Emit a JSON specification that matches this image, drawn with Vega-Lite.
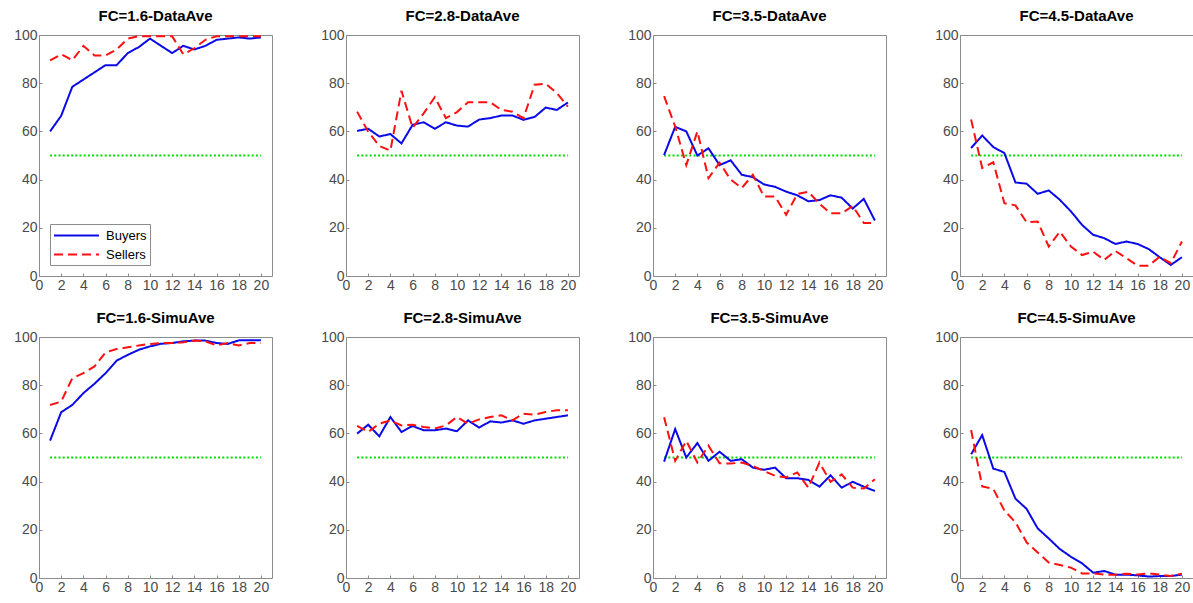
{
"$schema": "https://vega.github.io/schema/vega-lite/v6.json",
"padding": {"left": 13, "top": 8, "right": 0, "bottom": 0},
"background": "white",
"data": {"values": [
{"p":"FC=1.6-DataAve","s":"Buyers","x":1,"v":60},{"p":"FC=1.6-DataAve","s":"Buyers","x":2,"v":66.5},{"p":"FC=1.6-DataAve","s":"Buyers","x":3,"v":78.5},{"p":"FC=1.6-DataAve","s":"Buyers","x":4,"v":81.5},{"p":"FC=1.6-DataAve","s":"Buyers","x":5,"v":84.5},{"p":"FC=1.6-DataAve","s":"Buyers","x":6,"v":87.5},{"p":"FC=1.6-DataAve","s":"Buyers","x":7,"v":87.5},{"p":"FC=1.6-DataAve","s":"Buyers","x":8,"v":92.5},{"p":"FC=1.6-DataAve","s":"Buyers","x":9,"v":95},{"p":"FC=1.6-DataAve","s":"Buyers","x":10,"v":98.5},{"p":"FC=1.6-DataAve","s":"Buyers","x":11,"v":95.5},{"p":"FC=1.6-DataAve","s":"Buyers","x":12,"v":92.5},{"p":"FC=1.6-DataAve","s":"Buyers","x":13,"v":95.5},{"p":"FC=1.6-DataAve","s":"Buyers","x":14,"v":94},{"p":"FC=1.6-DataAve","s":"Buyers","x":15,"v":95.5},{"p":"FC=1.6-DataAve","s":"Buyers","x":16,"v":98},{"p":"FC=1.6-DataAve","s":"Buyers","x":17,"v":98.5},{"p":"FC=1.6-DataAve","s":"Buyers","x":18,"v":99},{"p":"FC=1.6-DataAve","s":"Buyers","x":19,"v":98.5},{"p":"FC=1.6-DataAve","s":"Buyers","x":20,"v":99},
{"p":"FC=1.6-DataAve","s":"Sellers","x":1,"v":89.5},{"p":"FC=1.6-DataAve","s":"Sellers","x":2,"v":92},{"p":"FC=1.6-DataAve","s":"Sellers","x":3,"v":89.5},{"p":"FC=1.6-DataAve","s":"Sellers","x":4,"v":95.5},{"p":"FC=1.6-DataAve","s":"Sellers","x":5,"v":91.5},{"p":"FC=1.6-DataAve","s":"Sellers","x":6,"v":91.5},{"p":"FC=1.6-DataAve","s":"Sellers","x":7,"v":94},{"p":"FC=1.6-DataAve","s":"Sellers","x":8,"v":98.5},{"p":"FC=1.6-DataAve","s":"Sellers","x":9,"v":99.5},{"p":"FC=1.6-DataAve","s":"Sellers","x":10,"v":99.5},{"p":"FC=1.6-DataAve","s":"Sellers","x":11,"v":99.5},{"p":"FC=1.6-DataAve","s":"Sellers","x":12,"v":99.5},{"p":"FC=1.6-DataAve","s":"Sellers","x":13,"v":92},{"p":"FC=1.6-DataAve","s":"Sellers","x":14,"v":94.5},{"p":"FC=1.6-DataAve","s":"Sellers","x":15,"v":98},{"p":"FC=1.6-DataAve","s":"Sellers","x":16,"v":99.5},{"p":"FC=1.6-DataAve","s":"Sellers","x":17,"v":99.5},{"p":"FC=1.6-DataAve","s":"Sellers","x":18,"v":99.5},{"p":"FC=1.6-DataAve","s":"Sellers","x":19,"v":99.5},{"p":"FC=1.6-DataAve","s":"Sellers","x":20,"v":99.5},
{"p":"FC=2.8-DataAve","s":"Buyers","x":1,"v":60.2},{"p":"FC=2.8-DataAve","s":"Buyers","x":2,"v":61.1},{"p":"FC=2.8-DataAve","s":"Buyers","x":3,"v":57.9},{"p":"FC=2.8-DataAve","s":"Buyers","x":4,"v":58.9},{"p":"FC=2.8-DataAve","s":"Buyers","x":5,"v":55},{"p":"FC=2.8-DataAve","s":"Buyers","x":6,"v":62.7},{"p":"FC=2.8-DataAve","s":"Buyers","x":7,"v":63.8},{"p":"FC=2.8-DataAve","s":"Buyers","x":8,"v":61.1},{"p":"FC=2.8-DataAve","s":"Buyers","x":9,"v":63.8},{"p":"FC=2.8-DataAve","s":"Buyers","x":10,"v":62.4},{"p":"FC=2.8-DataAve","s":"Buyers","x":11,"v":62},{"p":"FC=2.8-DataAve","s":"Buyers","x":12,"v":64.9},{"p":"FC=2.8-DataAve","s":"Buyers","x":13,"v":65.5},{"p":"FC=2.8-DataAve","s":"Buyers","x":14,"v":66.6},{"p":"FC=2.8-DataAve","s":"Buyers","x":15,"v":66.6},{"p":"FC=2.8-DataAve","s":"Buyers","x":16,"v":64.8},{"p":"FC=2.8-DataAve","s":"Buyers","x":17,"v":66},{"p":"FC=2.8-DataAve","s":"Buyers","x":18,"v":69.9},{"p":"FC=2.8-DataAve","s":"Buyers","x":19,"v":68.9},{"p":"FC=2.8-DataAve","s":"Buyers","x":20,"v":72},
{"p":"FC=2.8-DataAve","s":"Sellers","x":1,"v":68.2},{"p":"FC=2.8-DataAve","s":"Sellers","x":2,"v":59.9},{"p":"FC=2.8-DataAve","s":"Sellers","x":3,"v":54},{"p":"FC=2.8-DataAve","s":"Sellers","x":4,"v":52},{"p":"FC=2.8-DataAve","s":"Sellers","x":5,"v":76.9},{"p":"FC=2.8-DataAve","s":"Sellers","x":6,"v":61.5},{"p":"FC=2.8-DataAve","s":"Sellers","x":7,"v":67.5},{"p":"FC=2.8-DataAve","s":"Sellers","x":8,"v":74.2},{"p":"FC=2.8-DataAve","s":"Sellers","x":9,"v":65.5},{"p":"FC=2.8-DataAve","s":"Sellers","x":10,"v":68},{"p":"FC=2.8-DataAve","s":"Sellers","x":11,"v":72.1},{"p":"FC=2.8-DataAve","s":"Sellers","x":12,"v":72.1},{"p":"FC=2.8-DataAve","s":"Sellers","x":13,"v":72.1},{"p":"FC=2.8-DataAve","s":"Sellers","x":14,"v":68.9},{"p":"FC=2.8-DataAve","s":"Sellers","x":15,"v":68.2},{"p":"FC=2.8-DataAve","s":"Sellers","x":16,"v":65.5},{"p":"FC=2.8-DataAve","s":"Sellers","x":17,"v":79.4},{"p":"FC=2.8-DataAve","s":"Sellers","x":18,"v":79.8},{"p":"FC=2.8-DataAve","s":"Sellers","x":19,"v":75.9},{"p":"FC=2.8-DataAve","s":"Sellers","x":20,"v":70.3},
{"p":"FC=3.5-DataAve","s":"Buyers","x":1,"v":50.2},{"p":"FC=3.5-DataAve","s":"Buyers","x":2,"v":61.9},{"p":"FC=3.5-DataAve","s":"Buyers","x":3,"v":60},{"p":"FC=3.5-DataAve","s":"Buyers","x":4,"v":50},{"p":"FC=3.5-DataAve","s":"Buyers","x":5,"v":53},{"p":"FC=3.5-DataAve","s":"Buyers","x":6,"v":46},{"p":"FC=3.5-DataAve","s":"Buyers","x":7,"v":48},{"p":"FC=3.5-DataAve","s":"Buyers","x":8,"v":42},{"p":"FC=3.5-DataAve","s":"Buyers","x":9,"v":41},{"p":"FC=3.5-DataAve","s":"Buyers","x":10,"v":38},{"p":"FC=3.5-DataAve","s":"Buyers","x":11,"v":37},{"p":"FC=3.5-DataAve","s":"Buyers","x":12,"v":35},{"p":"FC=3.5-DataAve","s":"Buyers","x":13,"v":33.5},{"p":"FC=3.5-DataAve","s":"Buyers","x":14,"v":31},{"p":"FC=3.5-DataAve","s":"Buyers","x":15,"v":31.5},{"p":"FC=3.5-DataAve","s":"Buyers","x":16,"v":33.5},{"p":"FC=3.5-DataAve","s":"Buyers","x":17,"v":32.5},{"p":"FC=3.5-DataAve","s":"Buyers","x":18,"v":28},{"p":"FC=3.5-DataAve","s":"Buyers","x":19,"v":32},{"p":"FC=3.5-DataAve","s":"Buyers","x":20,"v":23},
{"p":"FC=3.5-DataAve","s":"Sellers","x":1,"v":74.6},{"p":"FC=3.5-DataAve","s":"Sellers","x":2,"v":62},{"p":"FC=3.5-DataAve","s":"Sellers","x":3,"v":46},{"p":"FC=3.5-DataAve","s":"Sellers","x":4,"v":60},{"p":"FC=3.5-DataAve","s":"Sellers","x":5,"v":40.6},{"p":"FC=3.5-DataAve","s":"Sellers","x":6,"v":47},{"p":"FC=3.5-DataAve","s":"Sellers","x":7,"v":40},{"p":"FC=3.5-DataAve","s":"Sellers","x":8,"v":36.5},{"p":"FC=3.5-DataAve","s":"Sellers","x":9,"v":42},{"p":"FC=3.5-DataAve","s":"Sellers","x":10,"v":33},{"p":"FC=3.5-DataAve","s":"Sellers","x":11,"v":33},{"p":"FC=3.5-DataAve","s":"Sellers","x":12,"v":25.4},{"p":"FC=3.5-DataAve","s":"Sellers","x":13,"v":34},{"p":"FC=3.5-DataAve","s":"Sellers","x":14,"v":35},{"p":"FC=3.5-DataAve","s":"Sellers","x":15,"v":30},{"p":"FC=3.5-DataAve","s":"Sellers","x":16,"v":26},{"p":"FC=3.5-DataAve","s":"Sellers","x":17,"v":26},{"p":"FC=3.5-DataAve","s":"Sellers","x":18,"v":29},{"p":"FC=3.5-DataAve","s":"Sellers","x":19,"v":22},{"p":"FC=3.5-DataAve","s":"Sellers","x":20,"v":22},
{"p":"FC=4.5-DataAve","s":"Buyers","x":1,"v":53.1},{"p":"FC=4.5-DataAve","s":"Buyers","x":2,"v":58.3},{"p":"FC=4.5-DataAve","s":"Buyers","x":3,"v":53.5},{"p":"FC=4.5-DataAve","s":"Buyers","x":4,"v":51},{"p":"FC=4.5-DataAve","s":"Buyers","x":5,"v":38.8},{"p":"FC=4.5-DataAve","s":"Buyers","x":6,"v":38.3},{"p":"FC=4.5-DataAve","s":"Buyers","x":7,"v":34.1},{"p":"FC=4.5-DataAve","s":"Buyers","x":8,"v":35.5},{"p":"FC=4.5-DataAve","s":"Buyers","x":9,"v":31.6},{"p":"FC=4.5-DataAve","s":"Buyers","x":10,"v":26.8},{"p":"FC=4.5-DataAve","s":"Buyers","x":11,"v":21.2},{"p":"FC=4.5-DataAve","s":"Buyers","x":12,"v":17.1},{"p":"FC=4.5-DataAve","s":"Buyers","x":13,"v":15.7},{"p":"FC=4.5-DataAve","s":"Buyers","x":14,"v":13.3},{"p":"FC=4.5-DataAve","s":"Buyers","x":15,"v":14.3},{"p":"FC=4.5-DataAve","s":"Buyers","x":16,"v":13.3},{"p":"FC=4.5-DataAve","s":"Buyers","x":17,"v":11.2},{"p":"FC=4.5-DataAve","s":"Buyers","x":18,"v":7.8},{"p":"FC=4.5-DataAve","s":"Buyers","x":19,"v":4.6},{"p":"FC=4.5-DataAve","s":"Buyers","x":20,"v":7.8},
{"p":"FC=4.5-DataAve","s":"Sellers","x":1,"v":64.9},{"p":"FC=4.5-DataAve","s":"Sellers","x":2,"v":44.8},{"p":"FC=4.5-DataAve","s":"Sellers","x":3,"v":47.2},{"p":"FC=4.5-DataAve","s":"Sellers","x":4,"v":30.2},{"p":"FC=4.5-DataAve","s":"Sellers","x":5,"v":29.3},{"p":"FC=4.5-DataAve","s":"Sellers","x":6,"v":22.3},{"p":"FC=4.5-DataAve","s":"Sellers","x":7,"v":22.6},{"p":"FC=4.5-DataAve","s":"Sellers","x":8,"v":12.2},{"p":"FC=4.5-DataAve","s":"Sellers","x":9,"v":18.4},{"p":"FC=4.5-DataAve","s":"Sellers","x":10,"v":12.2},{"p":"FC=4.5-DataAve","s":"Sellers","x":11,"v":8.7},{"p":"FC=4.5-DataAve","s":"Sellers","x":12,"v":10.1},{"p":"FC=4.5-DataAve","s":"Sellers","x":13,"v":6.7},{"p":"FC=4.5-DataAve","s":"Sellers","x":14,"v":10.4},{"p":"FC=4.5-DataAve","s":"Sellers","x":15,"v":7.4},{"p":"FC=4.5-DataAve","s":"Sellers","x":16,"v":4.3},{"p":"FC=4.5-DataAve","s":"Sellers","x":17,"v":4.3},{"p":"FC=4.5-DataAve","s":"Sellers","x":18,"v":8},{"p":"FC=4.5-DataAve","s":"Sellers","x":19,"v":5.3},{"p":"FC=4.5-DataAve","s":"Sellers","x":20,"v":14.3},
{"p":"FC=1.6-SimuAve","s":"Buyers","x":1,"v":57},{"p":"FC=1.6-SimuAve","s":"Buyers","x":2,"v":68.8},{"p":"FC=1.6-SimuAve","s":"Buyers","x":3,"v":71.8},{"p":"FC=1.6-SimuAve","s":"Buyers","x":4,"v":76.7},{"p":"FC=1.6-SimuAve","s":"Buyers","x":5,"v":80.6},{"p":"FC=1.6-SimuAve","s":"Buyers","x":6,"v":85},{"p":"FC=1.6-SimuAve","s":"Buyers","x":7,"v":90.2},{"p":"FC=1.6-SimuAve","s":"Buyers","x":8,"v":92.6},{"p":"FC=1.6-SimuAve","s":"Buyers","x":9,"v":94.7},{"p":"FC=1.6-SimuAve","s":"Buyers","x":10,"v":96.1},{"p":"FC=1.6-SimuAve","s":"Buyers","x":11,"v":97.2},{"p":"FC=1.6-SimuAve","s":"Buyers","x":12,"v":97.5},{"p":"FC=1.6-SimuAve","s":"Buyers","x":13,"v":98.2},{"p":"FC=1.6-SimuAve","s":"Buyers","x":14,"v":98.5},{"p":"FC=1.6-SimuAve","s":"Buyers","x":15,"v":98.5},{"p":"FC=1.6-SimuAve","s":"Buyers","x":16,"v":97.5},{"p":"FC=1.6-SimuAve","s":"Buyers","x":17,"v":97.1},{"p":"FC=1.6-SimuAve","s":"Buyers","x":18,"v":98.6},{"p":"FC=1.6-SimuAve","s":"Buyers","x":19,"v":98.6},{"p":"FC=1.6-SimuAve","s":"Buyers","x":20,"v":98.6},
{"p":"FC=1.6-SimuAve","s":"Sellers","x":1,"v":71.8},{"p":"FC=1.6-SimuAve","s":"Sellers","x":2,"v":73.2},{"p":"FC=1.6-SimuAve","s":"Sellers","x":3,"v":82.9},{"p":"FC=1.6-SimuAve","s":"Sellers","x":4,"v":85},{"p":"FC=1.6-SimuAve","s":"Sellers","x":5,"v":87.8},{"p":"FC=1.6-SimuAve","s":"Sellers","x":6,"v":93.6},{"p":"FC=1.6-SimuAve","s":"Sellers","x":7,"v":95},{"p":"FC=1.6-SimuAve","s":"Sellers","x":8,"v":95.7},{"p":"FC=1.6-SimuAve","s":"Sellers","x":9,"v":96.5},{"p":"FC=1.6-SimuAve","s":"Sellers","x":10,"v":97.1},{"p":"FC=1.6-SimuAve","s":"Sellers","x":11,"v":97.5},{"p":"FC=1.6-SimuAve","s":"Sellers","x":12,"v":97.5},{"p":"FC=1.6-SimuAve","s":"Sellers","x":13,"v":97.8},{"p":"FC=1.6-SimuAve","s":"Sellers","x":14,"v":98.5},{"p":"FC=1.6-SimuAve","s":"Sellers","x":15,"v":98.2},{"p":"FC=1.6-SimuAve","s":"Sellers","x":16,"v":96.5},{"p":"FC=1.6-SimuAve","s":"Sellers","x":17,"v":97.5},{"p":"FC=1.6-SimuAve","s":"Sellers","x":18,"v":96.5},{"p":"FC=1.6-SimuAve","s":"Sellers","x":19,"v":97.5},{"p":"FC=1.6-SimuAve","s":"Sellers","x":20,"v":97.5},
{"p":"FC=2.8-SimuAve","s":"Buyers","x":1,"v":59.9},{"p":"FC=2.8-SimuAve","s":"Buyers","x":2,"v":63.6},{"p":"FC=2.8-SimuAve","s":"Buyers","x":3,"v":58.8},{"p":"FC=2.8-SimuAve","s":"Buyers","x":4,"v":66.8},{"p":"FC=2.8-SimuAve","s":"Buyers","x":5,"v":60.6},{"p":"FC=2.8-SimuAve","s":"Buyers","x":6,"v":63.1},{"p":"FC=2.8-SimuAve","s":"Buyers","x":7,"v":61.3},{"p":"FC=2.8-SimuAve","s":"Buyers","x":8,"v":61.3},{"p":"FC=2.8-SimuAve","s":"Buyers","x":9,"v":62},{"p":"FC=2.8-SimuAve","s":"Buyers","x":10,"v":60.9},{"p":"FC=2.8-SimuAve","s":"Buyers","x":11,"v":65.4},{"p":"FC=2.8-SimuAve","s":"Buyers","x":12,"v":62.4},{"p":"FC=2.8-SimuAve","s":"Buyers","x":13,"v":65},{"p":"FC=2.8-SimuAve","s":"Buyers","x":14,"v":64.5},{"p":"FC=2.8-SimuAve","s":"Buyers","x":15,"v":65.4},{"p":"FC=2.8-SimuAve","s":"Buyers","x":16,"v":64},{"p":"FC=2.8-SimuAve","s":"Buyers","x":17,"v":65.4},{"p":"FC=2.8-SimuAve","s":"Buyers","x":18,"v":66.1},{"p":"FC=2.8-SimuAve","s":"Buyers","x":19,"v":66.8},{"p":"FC=2.8-SimuAve","s":"Buyers","x":20,"v":67.5},
{"p":"FC=2.8-SimuAve","s":"Sellers","x":1,"v":63.1},{"p":"FC=2.8-SimuAve","s":"Sellers","x":2,"v":60.6},{"p":"FC=2.8-SimuAve","s":"Sellers","x":3,"v":64},{"p":"FC=2.8-SimuAve","s":"Sellers","x":4,"v":65.4},{"p":"FC=2.8-SimuAve","s":"Sellers","x":5,"v":63.3},{"p":"FC=2.8-SimuAve","s":"Sellers","x":6,"v":63.6},{"p":"FC=2.8-SimuAve","s":"Sellers","x":7,"v":62.7},{"p":"FC=2.8-SimuAve","s":"Sellers","x":8,"v":62},{"p":"FC=2.8-SimuAve","s":"Sellers","x":9,"v":63.3},{"p":"FC=2.8-SimuAve","s":"Sellers","x":10,"v":66.8},{"p":"FC=2.8-SimuAve","s":"Sellers","x":11,"v":64},{"p":"FC=2.8-SimuAve","s":"Sellers","x":12,"v":65.8},{"p":"FC=2.8-SimuAve","s":"Sellers","x":13,"v":66.8},{"p":"FC=2.8-SimuAve","s":"Sellers","x":14,"v":67.5},{"p":"FC=2.8-SimuAve","s":"Sellers","x":15,"v":65.4},{"p":"FC=2.8-SimuAve","s":"Sellers","x":16,"v":68.2},{"p":"FC=2.8-SimuAve","s":"Sellers","x":17,"v":67.8},{"p":"FC=2.8-SimuAve","s":"Sellers","x":18,"v":68.9},{"p":"FC=2.8-SimuAve","s":"Sellers","x":19,"v":69.6},{"p":"FC=2.8-SimuAve","s":"Sellers","x":20,"v":69.6},
{"p":"FC=3.5-SimuAve","s":"Buyers","x":1,"v":48.3},{"p":"FC=3.5-SimuAve","s":"Buyers","x":2,"v":61.8},{"p":"FC=3.5-SimuAve","s":"Buyers","x":3,"v":50},{"p":"FC=3.5-SimuAve","s":"Buyers","x":4,"v":56},{"p":"FC=3.5-SimuAve","s":"Buyers","x":5,"v":48.6},{"p":"FC=3.5-SimuAve","s":"Buyers","x":6,"v":52.4},{"p":"FC=3.5-SimuAve","s":"Buyers","x":7,"v":48.6},{"p":"FC=3.5-SimuAve","s":"Buyers","x":8,"v":49.3},{"p":"FC=3.5-SimuAve","s":"Buyers","x":9,"v":45.8},{"p":"FC=3.5-SimuAve","s":"Buyers","x":10,"v":44.9},{"p":"FC=3.5-SimuAve","s":"Buyers","x":11,"v":45.8},{"p":"FC=3.5-SimuAve","s":"Buyers","x":12,"v":41.4},{"p":"FC=3.5-SimuAve","s":"Buyers","x":13,"v":41.4},{"p":"FC=3.5-SimuAve","s":"Buyers","x":14,"v":40.7},{"p":"FC=3.5-SimuAve","s":"Buyers","x":15,"v":37.9},{"p":"FC=3.5-SimuAve","s":"Buyers","x":16,"v":42.6},{"p":"FC=3.5-SimuAve","s":"Buyers","x":17,"v":37.5},{"p":"FC=3.5-SimuAve","s":"Buyers","x":18,"v":39.9},{"p":"FC=3.5-SimuAve","s":"Buyers","x":19,"v":37.9},{"p":"FC=3.5-SimuAve","s":"Buyers","x":20,"v":36.1},
{"p":"FC=3.5-SimuAve","s":"Sellers","x":1,"v":66.7},{"p":"FC=3.5-SimuAve","s":"Sellers","x":2,"v":48.6},{"p":"FC=3.5-SimuAve","s":"Sellers","x":3,"v":56.9},{"p":"FC=3.5-SimuAve","s":"Sellers","x":4,"v":47.9},{"p":"FC=3.5-SimuAve","s":"Sellers","x":5,"v":54.9},{"p":"FC=3.5-SimuAve","s":"Sellers","x":6,"v":47.6},{"p":"FC=3.5-SimuAve","s":"Sellers","x":7,"v":47.5},{"p":"FC=3.5-SimuAve","s":"Sellers","x":8,"v":47.9},{"p":"FC=3.5-SimuAve","s":"Sellers","x":9,"v":46.5},{"p":"FC=3.5-SimuAve","s":"Sellers","x":10,"v":44.4},{"p":"FC=3.5-SimuAve","s":"Sellers","x":11,"v":42.4},{"p":"FC=3.5-SimuAve","s":"Sellers","x":12,"v":41.7},{"p":"FC=3.5-SimuAve","s":"Sellers","x":13,"v":43.8},{"p":"FC=3.5-SimuAve","s":"Sellers","x":14,"v":37.5},{"p":"FC=3.5-SimuAve","s":"Sellers","x":15,"v":47.9},{"p":"FC=3.5-SimuAve","s":"Sellers","x":16,"v":39.9},{"p":"FC=3.5-SimuAve","s":"Sellers","x":17,"v":43},{"p":"FC=3.5-SimuAve","s":"Sellers","x":18,"v":37.5},{"p":"FC=3.5-SimuAve","s":"Sellers","x":19,"v":37.1},{"p":"FC=3.5-SimuAve","s":"Sellers","x":20,"v":41},
{"p":"FC=4.5-SimuAve","s":"Buyers","x":1,"v":51.3},{"p":"FC=4.5-SimuAve","s":"Buyers","x":2,"v":59.3},{"p":"FC=4.5-SimuAve","s":"Buyers","x":3,"v":45.4},{"p":"FC=4.5-SimuAve","s":"Buyers","x":4,"v":44},{"p":"FC=4.5-SimuAve","s":"Buyers","x":5,"v":32.9},{"p":"FC=4.5-SimuAve","s":"Buyers","x":6,"v":28.7},{"p":"FC=4.5-SimuAve","s":"Buyers","x":7,"v":20.6},{"p":"FC=4.5-SimuAve","s":"Buyers","x":8,"v":16.4},{"p":"FC=4.5-SimuAve","s":"Buyers","x":9,"v":12},{"p":"FC=4.5-SimuAve","s":"Buyers","x":10,"v":8.8},{"p":"FC=4.5-SimuAve","s":"Buyers","x":11,"v":6.1},{"p":"FC=4.5-SimuAve","s":"Buyers","x":12,"v":2.2},{"p":"FC=4.5-SimuAve","s":"Buyers","x":13,"v":2.9},{"p":"FC=4.5-SimuAve","s":"Buyers","x":14,"v":1.4},{"p":"FC=4.5-SimuAve","s":"Buyers","x":15,"v":1.4},{"p":"FC=4.5-SimuAve","s":"Buyers","x":16,"v":1.1},{"p":"FC=4.5-SimuAve","s":"Buyers","x":17,"v":0.6},{"p":"FC=4.5-SimuAve","s":"Buyers","x":18,"v":0.8},{"p":"FC=4.5-SimuAve","s":"Buyers","x":19,"v":0.8},{"p":"FC=4.5-SimuAve","s":"Buyers","x":20,"v":1.4},
{"p":"FC=4.5-SimuAve","s":"Sellers","x":1,"v":61.4},{"p":"FC=4.5-SimuAve","s":"Sellers","x":2,"v":38},{"p":"FC=4.5-SimuAve","s":"Sellers","x":3,"v":37},{"p":"FC=4.5-SimuAve","s":"Sellers","x":4,"v":28},{"p":"FC=4.5-SimuAve","s":"Sellers","x":5,"v":23.1},{"p":"FC=4.5-SimuAve","s":"Sellers","x":6,"v":14.8},{"p":"FC=4.5-SimuAve","s":"Sellers","x":7,"v":10.6},{"p":"FC=4.5-SimuAve","s":"Sellers","x":8,"v":6.4},{"p":"FC=4.5-SimuAve","s":"Sellers","x":9,"v":5.4},{"p":"FC=4.5-SimuAve","s":"Sellers","x":10,"v":4.3},{"p":"FC=4.5-SimuAve","s":"Sellers","x":11,"v":1.9},{"p":"FC=4.5-SimuAve","s":"Sellers","x":12,"v":1.9},{"p":"FC=4.5-SimuAve","s":"Sellers","x":13,"v":1.4},{"p":"FC=4.5-SimuAve","s":"Sellers","x":14,"v":1.4},{"p":"FC=4.5-SimuAve","s":"Sellers","x":15,"v":1.8},{"p":"FC=4.5-SimuAve","s":"Sellers","x":16,"v":1.5},{"p":"FC=4.5-SimuAve","s":"Sellers","x":17,"v":1.9},{"p":"FC=4.5-SimuAve","s":"Sellers","x":18,"v":1.4},{"p":"FC=4.5-SimuAve","s":"Sellers","x":19,"v":0.8},{"p":"FC=4.5-SimuAve","s":"Sellers","x":20,"v":1.8}
]},
"facet": {"field": "p", "type": "nominal",
  "sort": ["FC=1.6-DataAve","FC=2.8-DataAve","FC=3.5-DataAve","FC=4.5-DataAve","FC=1.6-SimuAve","FC=2.8-SimuAve","FC=3.5-SimuAve","FC=4.5-SimuAve"],
  "header": {"title": null, "labelFont": "Liberation Sans", "labelFontWeight": "bold", "labelFontSize": 15, "labelColor": "#000000", "labelPadding": 4}},
"columns": 4,
"spacing": {"row": 17, "column": 47},
"resolve": {"axis": {"x": "independent", "y": "independent"}},
"spec": {
  "width": 233,
  "height": 241,
  "layer": [
    {"transform": [{"filter": "datum.x == 1 && datum.s == 'Buyers'"}],
     "mark": {"type": "rule", "color": "#00dd00", "strokeWidth": 2, "strokeDash": [2, 2.2]},
     "encoding": {
       "x": {"datum": 1, "type": "quantitative", "scale": {"domain": [0, 21], "nice": false}, "axis": {"title": null, "values": [0,2,4,6,8,10,12,14,16,18,20], "labelOverlap": false}},
       "x2": {"datum": 20},
       "y": {"datum": 50, "type": "quantitative", "scale": {"domain": [0, 100], "nice": false}, "axis": {"title": null, "values": [0,20,40,60,80,100], "labelOverlap": false}}
     }},
    {"mark": {"type": "line", "strokeWidth": 2},
     "encoding": {
       "x": {"field": "x", "type": "quantitative", "scale": {"domain": [0, 21], "nice": false}, "axis": {"title": null, "values": [0,2,4,6,8,10,12,14,16,18,20], "labelOverlap": false}},
       "y": {"field": "v", "type": "quantitative", "scale": {"domain": [0, 100], "nice": false}, "axis": {"title": null, "values": [0,20,40,60,80,100], "labelOverlap": false}},
       "color": {"field": "s", "type": "nominal", "scale": {"domain": ["Buyers","Sellers"], "range": ["#0a0ae6","#ff1010"]},
         "legend": {"title": null, "orient": "none", "legendX": 11, "legendY": 189, "strokeColor": "#8c8c8c", "fillColor": "white", "padding": 3, "symbolType": "M-1,0H5", "symbolSize": 225, "symbolStrokeWidth": 2, "labelOffset": 36, "labelFont": "Liberation Sans", "labelFontSize": 13, "labelColor": "#000000", "rowPadding": 3}},
       "strokeDash": {"field": "s", "type": "nominal", "scale": {"domain": ["Buyers","Sellers"], "range": [[1,0],[9,5]]}, "legend": {"title": null, "orient": "none", "legendX": 11, "legendY": 189, "strokeColor": "#8c8c8c", "fillColor": "white", "padding": 3, "symbolType": "M-1,0H5", "symbolSize": 225, "symbolStrokeWidth": 2, "labelOffset": 36, "labelFont": "Liberation Sans", "labelFontSize": 13, "labelColor": "#000000", "rowPadding": 3}}
     }}
  ]
},
"config": {
  "view": {"stroke": "#8c8c8c", "strokeWidth": 1},
  "axis": {"grid": false, "domain": false, "labelFont": "Liberation Sans", "labelFontSize": 14, "labelColor": "#4a4a4a", "tickColor": "#8c8c8c", "tickSize": -3, "labelPadding": 5, "labelFlush": false, "labelOverlap": false}
}
}
